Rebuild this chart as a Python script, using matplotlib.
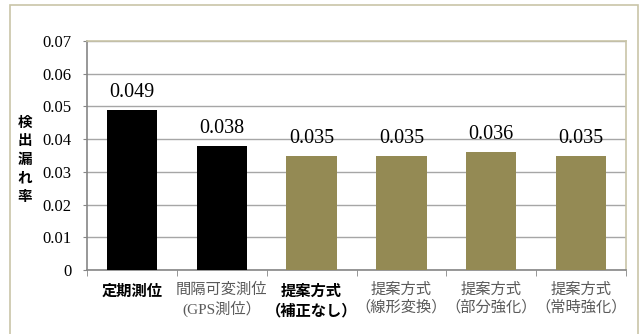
import numpy as np
import matplotlib.pyplot as plt
from matplotlib.patches import Rectangle

# data
categories = ['定期測位\n', '間隔可変測位\n(GPS測位）', '提案方式\n（補正なし）',
              '提案方式\n（線形変換）', '提案方式\n（部分強化）', '提案方式\n（常時強化）']
values = [0.049, 0.038, 0.035, 0.035, 0.036, 0.035]
value_labels = ['0.049', '0.038', '0.035', '0.035', '0.036', '0.035']
bar_colors = ['#000000', '#000000', '#948A54', '#948A54', '#948A54', '#948A54']
label_bold = [True, False, True, False, False, False]
yticks = [0, 0.01, 0.02, 0.03, 0.04, 0.05, 0.06, 0.07]
ytick_labels = ['0', '0.01', '0.02', '0.03', '0.04', '0.05', '0.06', '0.07']

W, H = 643, 334
fig = plt.figure(figsize=(W / 100, H / 100), dpi=100)
fig.patch.set_facecolor('white')

# outer chart frame
fig.patches.append(Rectangle((10 / W, -0.05), 628 / W, (H - 5) / H + 0.05,
                             transform=fig.transFigure, fill=False,
                             edgecolor='#C9C5A8', linewidth=1.2))

ax = fig.add_axes([87 / W, 1 - 270 / H, (626 - 87) / W, (270 - 41) / H])
x = np.arange(len(categories))
ax.bar(x, values, width=0.56, color=bar_colors, zorder=3)
ax.set_xlim(-0.5, len(categories) - 0.5)
ax.set_ylim(0, 0.07)

for xi, v, lab in zip(x, values, value_labels):
    ax.text(xi, v + 0.0053, lab, ha='center', va='center',
            fontsize=14.5, family='Liberation Serif', color='black', zorder=4)

ax.set_yticks(yticks)
ax.set_yticklabels(ytick_labels, family='Liberation Serif', fontsize=12)
ax.yaxis.grid(True, color='#A6A6A6', linewidth=1, zorder=0)
ax.tick_params(axis='y', length=3, color='#868686', pad=8)

ax.set_xticks(x)
ax.set_xticklabels(categories, fontsize=11, linespacing=1.3)
ax.set_xticks(np.arange(-0.5, len(categories)), minor=True)
ax.tick_params(axis='x', which='major', length=0, pad=9)
ax.tick_params(axis='x', which='minor', length=4, color='#868686')
for t, b in zip(ax.get_xticklabels(), label_bold):
    if b:
        t.set_family(['Noto Sans CJK JP', 'DejaVu Sans'])
        t.set_fontweight('bold')
        t.set_color('black')
    else:
        t.set_family(['Liberation Serif', 'Noto Sans CJK JP'])
        t.set_color('#5a5a5a')

for s in ['left', 'bottom']:
    ax.spines[s].set_color('#868686')
    ax.spines[s].set_linewidth(1.2)
for s in ['top', 'right']:
    ax.spines[s].set_color('#C9C5A8')
    ax.spines[s].set_linewidth(1.2)

fig.text(25 / W, 1 - 159 / H, '検\n出\n漏\nれ\n率', ha='center', va='center',
         fontsize=10.5, fontweight='bold', family=['Noto Sans CJK JP'],
         linespacing=1.2)

fig.savefig('out.png', dpi=100)
